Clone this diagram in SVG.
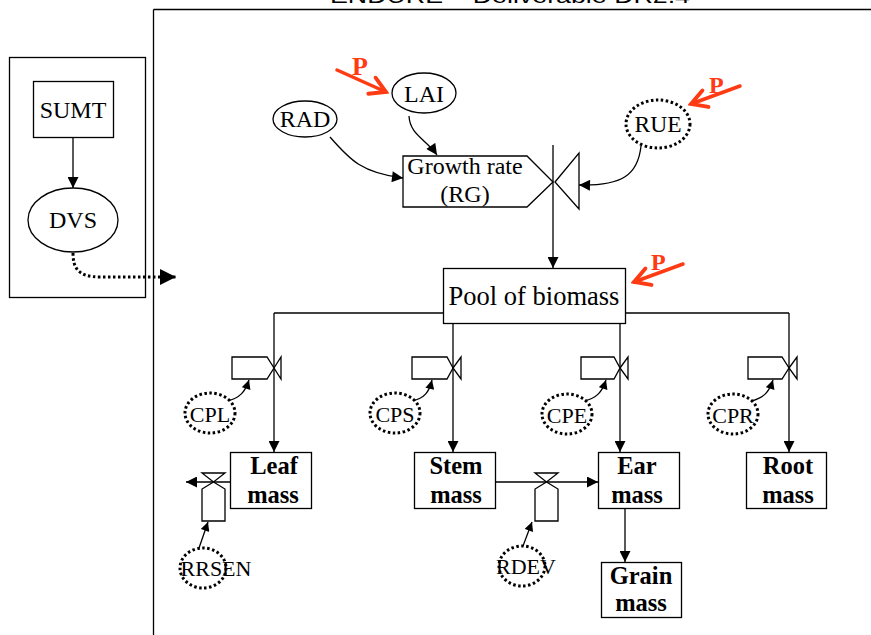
<svg xmlns="http://www.w3.org/2000/svg" width="871" height="635" viewBox="0 0 871 635">
<style>
.ln{fill:none;stroke:#000;stroke-width:1.3}
.bx{fill:#fff;stroke:#000;stroke-width:1.3}
.dot{fill:#fff;stroke:#000;stroke-width:3;stroke-dasharray:2.5 2.5}
.t{font-family:"Liberation Serif","Times New Roman",serif;fill:#000;text-anchor:middle}
.b{font-weight:bold}
.red{fill:none;stroke:#ff3b14;stroke-width:3.5;stroke-linecap:round}
.p{font-family:"Liberation Serif","Times New Roman",serif;fill:#ff3b14;font-weight:bold}
</style>
<defs>
<marker id="a" viewBox="0 0 10 10" refX="10" refY="5" markerWidth="12" markerHeight="11" markerUnits="userSpaceOnUse" orient="auto"><path d="M0,0 L10,5 L0,10z" fill="#000"/></marker>
<marker id="as" viewBox="0 0 10 10" refX="10" refY="5" markerWidth="10" markerHeight="9" markerUnits="userSpaceOnUse" orient="auto"><path d="M0,0 L10,5 L0,10z" fill="#000"/></marker>
<marker id="ab" viewBox="0 0 10 10" refX="10" refY="5" markerWidth="16" markerHeight="16" markerUnits="userSpaceOnUse" orient="auto"><path d="M0,0 L10,5 L0,10z" fill="#000"/></marker>
<marker id="ra" viewBox="0 0 20 20" refX="17" refY="10" markerWidth="22" markerHeight="22" markerUnits="userSpaceOnUse" orient="auto"><path d="M3,2 L17,10 L3,18" fill="none" stroke="#ff3b14" stroke-width="3.5" stroke-linecap="round"/></marker>
</defs>

<text x="330" y="3" font-family="Liberation Sans,Arial,sans-serif" font-size="20" textLength="360" lengthAdjust="spacingAndGlyphs">ENDURE – Deliverable DR2.4</text>
<line class="ln" x1="153.5" y1="9.5" x2="871" y2="9.5"/>
<line class="ln" x1="153.5" y1="9.5" x2="153.5" y2="635"/>
<rect class="ln" x="9.5" y="57.5" width="136" height="240"/>

<g id="connectors">
<line class="ln" x1="73" y1="137" x2="73" y2="188" marker-end="url(#a)"/>
<path d="M73,253 C73,268 78,277 100,277 L176,277" fill="none" stroke="#000" stroke-width="3" stroke-dasharray="2.5 2.5" marker-end="url(#ab)"/>
<path class="ln" d="M330,137 C350,160 362,173 403,178" marker-end="url(#a)"/>
<path class="ln" d="M409,116 C410,135 426,139 437,155" marker-end="url(#a)"/>
<path class="ln" d="M641,146 C638,175 622,186 579,185" marker-end="url(#a)"/>
<line class="ln" x1="553" y1="145" x2="553" y2="268" marker-end="url(#a)"/>
<line class="ln" x1="274" y1="313" x2="443" y2="313"/>
<line class="ln" x1="625" y1="313" x2="789" y2="313"/>
<line class="ln" x1="274" y1="313" x2="274" y2="452" marker-end="url(#a)"/>
<line class="ln" x1="453" y1="323" x2="453" y2="452" marker-end="url(#a)"/>
<line class="ln" x1="620" y1="323" x2="620" y2="452" marker-end="url(#a)"/>
<line class="ln" x1="789" y1="313" x2="789" y2="452" marker-end="url(#a)"/>
<line class="ln" x1="625" y1="508" x2="625" y2="562" marker-end="url(#a)"/>
<line class="ln" x1="495" y1="482" x2="598" y2="482" marker-end="url(#a)"/>
<line class="ln" x1="230" y1="482" x2="186" y2="482" marker-end="url(#a)"/>
<path class="ln" d="M227,401 C240,398 245,392 249,380" marker-end="url(#as)"/>
<path class="ln" d="M412,401 C425,398 429,392 432,380" marker-end="url(#as)"/>
<path class="ln" d="M584,401 C597,398 602,392 606,380" marker-end="url(#as)"/>
<path class="ln" d="M751,401 C764,398 769,392 773,380" marker-end="url(#as)"/>
<line class="ln" x1="199" y1="548" x2="208" y2="522" marker-end="url(#as)"/>
<line class="ln" x1="523" y1="546" x2="532" y2="522" marker-end="url(#as)"/>
<line class="red" x1="337" y1="70" x2="386" y2="92" marker-end="url(#ra)"/>
<line class="red" x1="740" y1="86" x2="691" y2="104" marker-end="url(#ra)"/>
<line class="red" x1="683" y1="264" x2="634" y2="282" marker-end="url(#ra)"/>
</g>

<g id="SUMT"><rect class="bx" x="33.5" y="81.5" width="80" height="56"/><text class="t" x="73" y="118" font-size="24">SUMT</text></g>
<g id="DVS"><ellipse class="bx" cx="73" cy="220" rx="45" ry="32"/><text class="t" x="73" y="228" font-size="24">DVS</text></g>
<g id="RAD"><ellipse class="bx" cx="305" cy="119" rx="32" ry="18"/><text class="t" x="305" y="127" font-size="24">RAD</text></g>
<g id="LAI"><ellipse class="bx" cx="424" cy="93" rx="32" ry="20"/><text class="t" x="424" y="102" font-size="24">LAI</text></g>
<g id="RUE"><ellipse class="dot" cx="658" cy="124" rx="32" ry="24"/><text class="t" x="658" y="132" font-size="23.5">RUE</text></g>
<g id="RG"><polygon class="bx" points="403,156 527,156 553,182 527,207 403,207"/><text class="t" x="465" y="174" font-size="24">Growth rate</text><text class="t" x="465" y="202" font-size="24">(RG)</text></g>
<g id="valve-main"><polygon class="bx" points="555,182 579,153 579,209"/></g>
<g id="Pool"><rect class="bx" x="443.5" y="268.5" width="182" height="55"/><text class="t" x="534" y="305" font-size="26.5">Pool of biomass</text></g>

<g id="valve-leaf"><polygon class="bx" points="232,357 267,357 274,368 267,379 232,379"/><polygon class="bx" points="274,368 281,357 281,379"/></g>
<g id="valve-stem"><polygon class="bx" points="412,357 447,357 453,368 447,379 412,379"/><polygon class="bx" points="453,368 461,357 461,379"/></g>
<g id="valve-ear"><polygon class="bx" points="581,357 614,357 620,368 614,379 581,379"/><polygon class="bx" points="620,368 628,357 628,379"/></g>
<g id="valve-root"><polygon class="bx" points="748,357 782,357 789,368 782,379 748,379"/><polygon class="bx" points="789,368 797,357 797,379"/></g>

<g id="CPL"><ellipse class="dot" cx="210" cy="413" rx="25" ry="20"/><text class="t" x="210" y="422" font-size="22">CPL</text></g>
<g id="CPS"><ellipse class="dot" cx="395" cy="413" rx="25" ry="20"/><text class="t" x="395" y="422" font-size="22">CPS</text></g>
<g id="CPE"><ellipse class="dot" cx="567" cy="414" rx="25" ry="20"/><text class="t" x="567" y="423" font-size="22">CPE</text></g>
<g id="CPR"><ellipse class="dot" cx="733" cy="414" rx="25" ry="20"/><text class="t" x="733" y="423" font-size="22">CPR</text></g>

<g id="Leaf"><rect class="bx" x="230.5" y="452.5" width="81" height="56"/><text class="t b" x="274" y="474" font-size="24.5">Leaf</text><text class="t b" x="273" y="503" font-size="24.5">mass</text></g>
<g id="Stem"><rect class="bx" x="414.5" y="452.5" width="81" height="56"/><text class="t b" x="456" y="474" font-size="24.5">Stem</text><text class="t b" x="456" y="503" font-size="24.5">mass</text></g>
<g id="Ear"><rect class="bx" x="598.5" y="452.5" width="81" height="56"/><text class="t b" x="637" y="474" font-size="24.5">Ear</text><text class="t b" x="637" y="503" font-size="24.5">mass</text></g>
<g id="Root"><rect class="bx" x="746.5" y="452.5" width="80" height="56"/><text class="t b" x="788" y="474" font-size="24.5">Root</text><text class="t b" x="788" y="503" font-size="24.5">mass</text></g>
<g id="Grain"><rect class="bx" x="601.5" y="562.5" width="80" height="55"/><text class="t b" x="641" y="584" font-size="24.5">Grain</text><text class="t b" x="641" y="611" font-size="24.5">mass</text></g>

<g id="valve-sen"><polygon class="bx" points="202,473 225,473 213.5,482"/><polygon class="bx" points="213.5,482 225,489 225,521 202,521 202,489"/></g>
<g id="valve-dev"><polygon class="bx" points="535,473 558,473 546.5,482"/><polygon class="bx" points="546.5,482 558,489 558,521 535,521 535,489"/></g>

<g id="RRSEN"><ellipse class="dot" cx="203" cy="568" rx="23" ry="20"/><text class="t" x="216" y="576" font-size="22">RRSEN</text></g>
<g id="RDEV"><ellipse class="dot" cx="522" cy="566" rx="23" ry="20"/><text class="t" x="526" y="574" font-size="22">RDEV</text></g>

<g id="P-marks"><text class="p" x="352" y="75" font-size="26">P</text><text class="p" x="709" y="93" font-size="24">P</text><text class="p" x="651" y="270" font-size="24">P</text></g>
</svg>
